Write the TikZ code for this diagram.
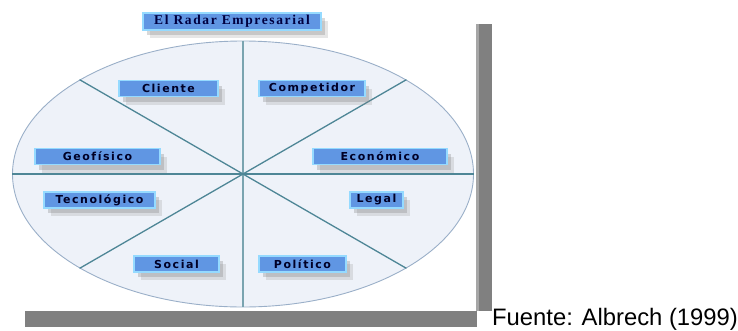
\documentclass[tikz,border=0pt]{standalone}
\usepackage{fontspec}
\usepackage{tikz}
\usetikzlibrary{shapes.geometric,shadows}
\newfontfamily\boxfont[LetterSpace=14]{DejaVu Sans}
\newfontfamily\titlefont[LetterSpace=12]{Liberation Serif}
\newfontfamily\notefont{Liberation Sans}
\definecolor{boxblue}{HTML}{6096E3}
\definecolor{boxedge}{HTML}{95DAFF}
\definecolor{radarfill}{HTML}{EEF2F9}
\definecolor{radaredge}{HTML}{9AAFC8}
\definecolor{spoke}{HTML}{4E8696}
\definecolor{bargray}{HTML}{808080}

\begin{document}
\begin{tikzpicture}[x=1pt,y=-1pt,
        factor/.style={draw=boxedge,line width=1.4pt,fill=boxblue,inner sep=0pt,
            minimum height=16pt,text=black!85!blue,font=\boxfont\bfseries\fontsize{11}{12}\selectfont,
            drop shadow={shadow xshift=7pt,shadow yshift=-8pt,opacity=.2,fill=gray},
            drop shadow={shadow xshift=4pt,shadow yshift=-5pt,opacity=.3,fill=gray}},
        spokeline/.style={draw=spoke,line width=1.3pt}]
    \useasboundingbox (0,0) rectangle (738,330);
    % marco gris
    \fill[bargray] (477,24) rectangle (492,311);
    \fill[bargray!70] (476,24) rectangle (479,311);
    \fill[bargray] (25,311) rectangle (477,327);
    % radar
    \node[ellipse,draw=radaredge,line width=0.9pt,fill=radarfill,inner sep=0pt,
        minimum width=461pt,minimum height=266pt] (radar) at (243,174) {};
    \draw[spokeline,draw=spoke!75!white,line width=1.8pt] (radar.north) -- (radar.south);
    \draw[spokeline] (radar.west) -- (radar.east);
    \draw[spokeline] (radar.150) -- (radar.330);
    \draw[spokeline] (radar.30) -- (radar.210);
    % factores
    \node[factor,minimum width=178pt,minimum height=17pt,text=blue!25!black,
        font=\titlefont\bfseries\fontsize{13.5}{14}\selectfont] (titulo) at (232,21.5) {El Radar Empresarial};
    \node[factor,minimum width=99pt]  (cliente)     at (168.5,88.5) {Cliente};
    \node[factor,minimum width=106pt] (competidor)  at (312,88.5)   {Competidor};
    \node[factor,minimum width=125pt] (geofisico)   at (97.5,156.5) {Geofísico};
    \node[factor,minimum width=134pt] (economico)   at (380,156.5)  {Económico};
    \node[factor,minimum width=111pt] (tecnologico) at (99.5,200)   {Tecnológico};
    \node[factor,minimum width=53pt]  (legal)       at (376.5,200)  {Legal};
    \node[factor,minimum width=85pt]  (social)      at (176.5,264)  {Social};
    \node[factor,minimum width=87pt]  (politico)    at (302.5,264)  {Político};
    \node[anchor=base west,inner sep=0pt,font=\notefont\fontsize{23.8}{26}\selectfont] (fuente) at (492,325) {Fuente: Albrech (1999)};
\end{tikzpicture}
\end{document}
